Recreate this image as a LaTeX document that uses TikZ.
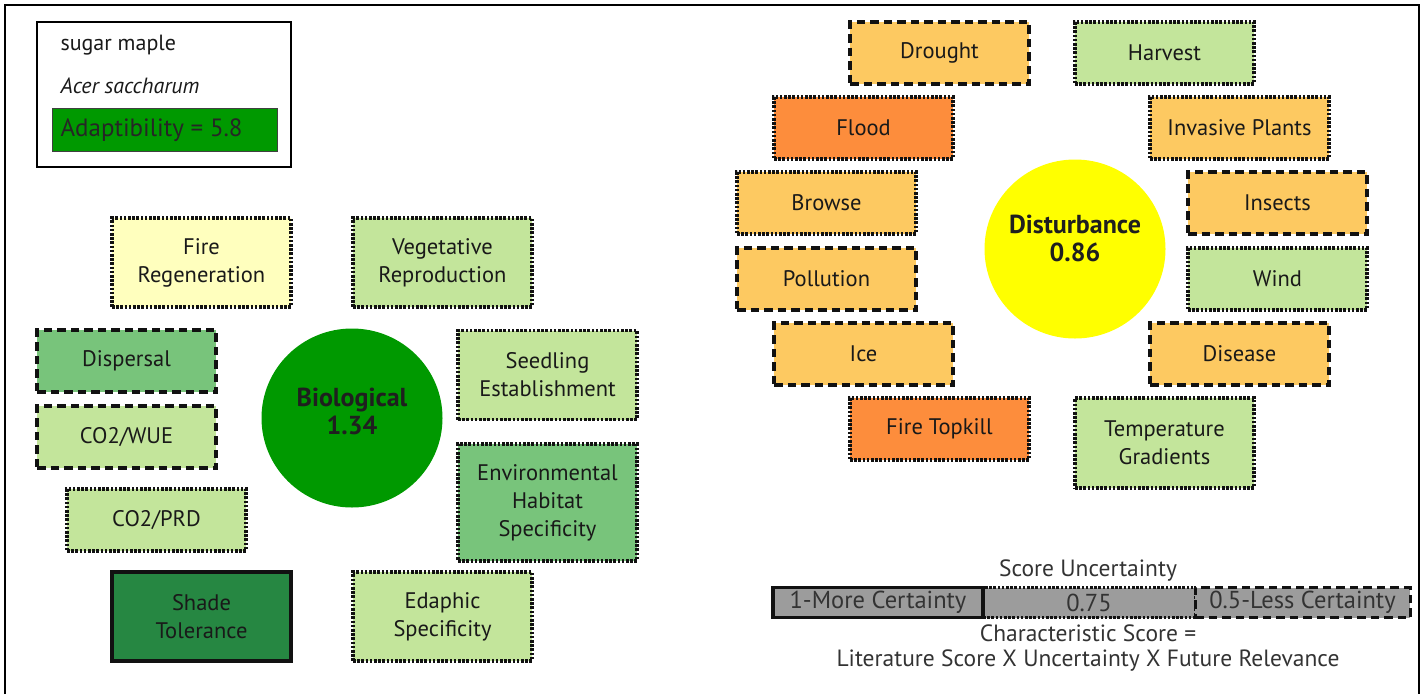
\documentclass[tikz,border=0pt]{standalone}
\usepackage{fontspec}
\setmainfont{PT Sans}
\usetikzlibrary{shapes.geometric}
\definecolor{lgreen}{HTML}{C3E59B}
\definecolor{mgreen}{HTML}{78C47B}
\definecolor{dgreen}{HTML}{268742}
\definecolor{lyellow}{HTML}{FFFFBE}
\definecolor{yorange}{HTML}{FDC961}
\definecolor{dorange}{HTML}{FD8D3C}
\definecolor{biogreen}{HTML}{009900}
\definecolor{distyellow}{HTML}{FFFF00}
\definecolor{bargray}{HTML}{9C9C9C}
\definecolor{txtgray}{HTML}{333333}
\definecolor{edge}{HTML}{111111}
\tikzset{
  box/.style={rectangle, draw=edge, line width=3.2pt, minimum width=179pt, minimum height=62pt,
    inner sep=0pt, align=center, text=black!90, font=\fontsize{22.5}{28}\selectfont},
  tall/.style={minimum height=89pt},
  dotline/.style={dash pattern=on 2.6pt off 1.6pt},
  dashline/.style={dash pattern=on 8.5pt off 5pt},
  solidline/.style={line width=3.6pt},
  circ/.style={ellipse, minimum width=181pt, minimum height=179pt, inner sep=0pt},
  circtext/.style={align=center, text=black!88, font=\bfseries\fontsize{26}{28}\selectfont},
  legtext/.style={anchor=west, text=black!90, font=\fontsize{22}{26}\selectfont},
  bottext/.style={text=txtgray, font=\fontsize{23.5}{26}\selectfont},
  barpart/.style={rectangle, draw=edge, fill=bargray, line width=3pt, minimum height=30pt,
    minimum width=212pt, inner sep=0pt, text=txtgray, font=\fontsize{24.5}{26}\selectfont}
}
\begin{document}
\begin{tikzpicture}[x=1pt,y=-1pt]
\useasboundingbox (0,0) rectangle (1426,694);
% frame
\draw[line width=1.5pt, black] (5,694) -- (5,5) -- (1419,5) -- (1419,694);
% species legend
\node[rectangle, draw=black, line width=1.3pt, minimum width=254pt, minimum height=145pt, inner sep=0pt] (legend) at (164,94.5) {};
\node[legtext] (common) at (57,45) {sugar maple};
\node[legtext] (latin) at (57,86) {\itshape Acer saccharum};
\node[rectangle, draw=black!75, line width=1pt, fill=biogreen, minimum width=225pt, minimum height=43pt, inner sep=0pt] (adapt) at (164.5,129.5) {};
\node[legtext, text=black!85, font=\fontsize{25}{28}\selectfont] (adapttxt) at (57,130) {Adaptibility = 5.8};
% biological
\node[circ, fill=biogreen] (bio) at (352,418) {};
\node[circtext] (biotxt) at ([yshift=7pt]bio.center) {Biological\\1.34};
\node[box, tall, dotline, fill=lyellow] (firereg) at (201.5,262.5) {Fire\\Regeneration};
\node[box, tall, dotline, fill=lgreen] (veg) at (442.5,262.5) {Vegetative\\Reproduction};
\node[box, dashline, fill=mgreen] (disp) at (126.5,361) {Dispersal};
\node[box, dashline, fill=lgreen] (wue) at (126.5,437) {CO2/WUE};
\node[box, dotline, fill=lgreen] (prd) at (156.5,520) {CO2/PRD};
\node[box, tall, solidline, fill=dgreen] (shade) at (201.5,616.5) {Shade\\Tolerance};
\node[box, tall, dotline, fill=lgreen] (edaph) at (442.5,616.5) {Edaphic\\Specificity};
\node[box, tall, dotline, fill=lgreen] (seed) at (547.5,375) {Seedling\\Establishment};
\node[box, minimum height=117pt, dotline, fill=mgreen] (env) at (547.5,502.5) {Environmental\\Habitat\\Specificity};
% disturbance
\node[circ, fill=distyellow] (dist) at (1075,249) {};
\node[circtext] (disttxt) at ([yshift=11pt]dist.center) {Disturbance\\0.86};
\node[box, dashline, fill=yorange] (drought) at (939.5,53) {Drought};
\node[box, dotline, fill=lgreen] (harvest) at (1164.5,53) {Harvest};
\node[box, dotline, fill=dorange] (flood) at (863.5,128) {Flood};
\node[box, dotline, fill=yorange] (invasive) at (1239.5,128) {Invasive Plants};
\node[box, dotline, fill=yorange] (browse) at (826.5,203) {Browse};
\node[box, dashline, fill=yorange] (insects) at (1277.5,203) {Insects};
\node[box, dashline, fill=yorange] (pollution) at (826.5,279) {Pollution};
\node[box, dotline, fill=lgreen] (wind) at (1277.5,279) {Wind};
\node[box, dashline, fill=yorange] (ice) at (863.5,354) {Ice};
\node[box, dashline, fill=yorange] (disease) at (1239.5,354) {Disease};
\node[box, dotline, fill=dorange] (topkill) at (939.5,429) {Fire Topkill};
\node[box, minimum height=90pt, dotline, fill=lgreen] (temp) at (1164.5,443) {Temperature\\Gradients};
% uncertainty legend
\node[bottext] (sutitle) at (1088,571) {Score Uncertainty};
\node[barpart, dotline, minimum width=212pt] (mid) at (1089,602.5) {0.75};
\node[barpart, dashline, minimum width=215pt] (less) at (1302.5,602.5) {0.5-Less Certainty};
\node[barpart, minimum width=210pt, line width=3.4pt] (more) at (878,602.5) {1-More Certainty};
\node[bottext] (cs1) at (1088,633) {Characteristic Score =};
\node[bottext] (cs2) at (1088,661) {Literature Score X Uncertainty X Future Relevance};
\end{tikzpicture}
\end{document}
